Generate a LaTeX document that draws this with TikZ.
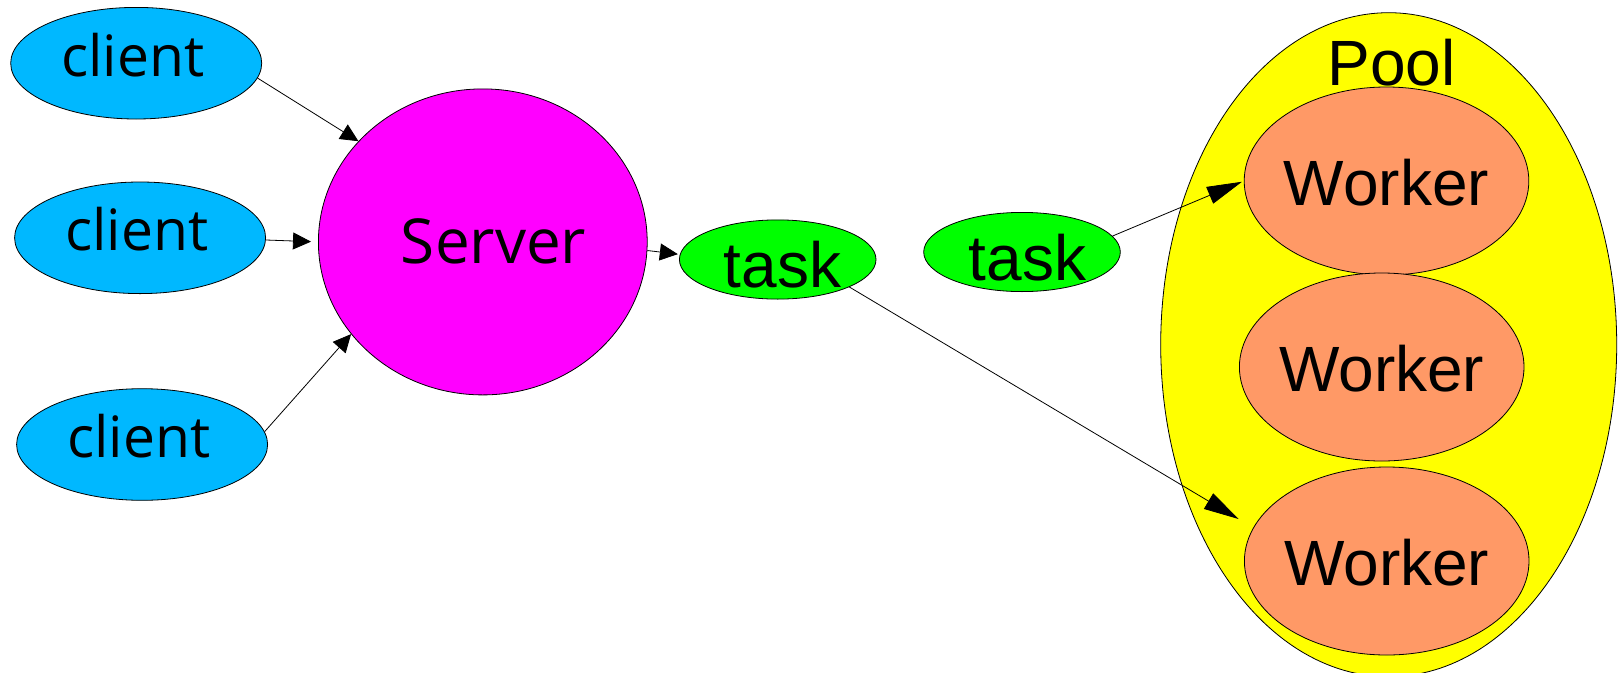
\documentclass[tikz,border=0pt]{standalone}
\usepackage{fontspec}
\setmainfont{Liberation Sans}
\newfontfamily\opensans{Open Sans}
\usetikzlibrary{shapes.geometric,arrows.meta}

\definecolor{clientblue}{HTML}{00B8FF}
\definecolor{servermagenta}{HTML}{FF00FF}
\definecolor{taskgreen}{HTML}{00FF00}
\definecolor{poolyellow}{HTML}{FFFF00}
\definecolor{workersalmon}{HTML}{FF9966}

% zero-width label box; optional argument moves the text sideways by half its value
\newcommand\nodetext[2][0pt]{\makebox[0pt]{\hspace*{#1}#2}}

\begin{document}
\begin{tikzpicture}[x=1pt,y=-1pt,
  blob/.style={ellipse,draw=black,line width=0.8pt,inner sep=0pt,text depth=0pt},
  client/.style={blob,fill=clientblue,minimum width=251pt,minimum height=111.6pt,
    font=\opensans\fontsize{57}{60}\selectfont,text height=25.6pt},
  server/.style={blob,fill=servermagenta,minimum width=328.8pt,minimum height=306pt,
    font=\opensans\fontsize{62}{66}\selectfont,text height=44pt},
  task/.style={blob,fill=taskgreen,minimum width=196.6pt,minimum height=79pt,
    font=\fontsize{64}{68}\selectfont,text height=56pt},
  pool/.style={blob,fill=poolyellow,minimum width=456pt,minimum height=664pt},
  worker/.style={blob,fill=workersalmon,minimum width=284.6pt,minimum height=188pt,
    font=\fontsize{64}{68}\selectfont,text height=49.4pt},
  poollabel/.style={inner sep=0pt,anchor=base,font=\fontsize{64}{68}\selectfont},
  link/.style={draw=black,line width=0.8pt},
  shorttip/.style={link,-{Triangle[length=18pt,width=17pt]}},
  longtip/.style={link,-{Triangle[length=35pt,width=18pt]}}
]
\useasboundingbox (0,0) rectangle (1621,672);

% clients and the server
\node[client] (c1) at (136.2,63.2) {\nodetext[-7pt]{client}};
\node[client] (c2) at (140.1,237.8) {\nodetext[-7pt]{client}};
\node[client] (c3) at (142.1,444.5) {\nodetext[-7pt]{client}};
\node[server] (srv) at (482.8,241.9) {\nodetext[21.6pt]{Server}};

% queued tasks
\node[task] (t1) at (777.7,259.5) {\nodetext[9.6pt]{task}};
\node[task] (t2) at (1022,252) {\nodetext[11pt]{task}};

% worker pool
\node[pool] (pool) at (1388.7,344.7) {};
\node[poollabel] (pooltext) at (1391.7,85) {Pool};
\node[worker] (w1) at (1386.5,181) {\nodetext{Worker}};
\node[worker] (w2) at (1381.7,367) {\nodetext{Worker}};
\node[worker] (w3) at (1386.7,561) {\nodetext{Worker}};

% connectors
\draw[shorttip] (c1.-7.9) -- (srv.141.2);
\draw[shorttip,shorten >=7pt] (c2.-1.8) -- (srv.180);
\draw[shorttip] (c3.6.5) -- (srv.215);
\draw[shorttip,shorten >=2pt] (srv.-3.5) -- (t1.177);
\draw[longtip,shorten >=2pt] (t2.10.9) -- (w1.180);
\draw[longtip,shorten >=17pt] (t1.-21.8) -- (w3.166.8);
\end{tikzpicture}
\end{document}
